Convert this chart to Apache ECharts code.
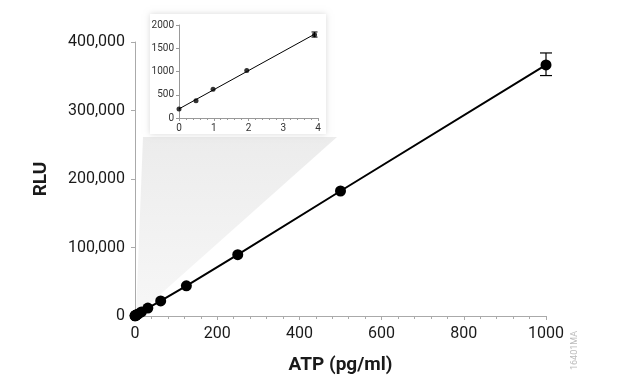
<!DOCTYPE html>
<html><head><meta charset="utf-8">
<script src="https://cdn.jsdelivr.net/npm/echarts@6/dist/echarts.min.js"></script>
<style>html,body{margin:0;padding:0;background:#fff}#c{width:627px;height:392px}</style>
</head><body><div id="c"></div>
<script>
// Main curve data
const atp = [0, 0.49, 0.98, 1.95, 3.9, 7.8, 15.6, 31.25, 62.5, 125, 250, 500, 1000];
const rlu = [200, 370, 620, 1020, 1790, 3000, 5900, 11500, 22000, 44000, 89500, 182500, 366500];
const mainErrX = [1000];
const mainErrLow = [351000];
const mainErrHigh = [384000];
// Inset data (low range)
const insetX = [0, 0.49, 0.98, 1.95, 3.9];
const insetY = [195, 370, 620, 1020, 1790];
const insetErrX = [3.9];
const insetErrLow = [1740];
const insetErrHigh = [1850];

// least squares fit for inset line
function fit(xs, ys) {
  const n = xs.length;
  const mx = xs.reduce((a, b) => a + b, 0) / n, my = ys.reduce((a, b) => a + b, 0) / n;
  let sxy = 0, sxx = 0;
  for (let i = 0; i < n; i++) { sxy += (xs[i] - mx) * (ys[i] - my); sxx += (xs[i] - mx) ** 2; }
  const b = sxy / sxx; return { a: my - b * mx, b };
}
const f = fit(insetX, insetY);
const fitLine = [[insetX[0], f.a + f.b * insetX[0]], [insetX[insetX.length - 1], f.a + f.b * insetX[insetX.length - 1]]];

const font = 'Roboto, "Liberation Sans", sans-serif';
const chart = echarts.init(document.getElementById('c'), null, { renderer: 'canvas' });

function errItem(capW, lw) {
  return function (params, api) {
    const x = api.value(0), lo = api.value(1), hi = api.value(2);
    const pLo = api.coord([x, lo]), pHi = api.coord([x, hi]);
    const st = { stroke: '#000', lineWidth: lw };
    return { type: 'group', children: [
      { type: 'line', shape: { x1: pLo[0], y1: pLo[1], x2: pHi[0], y2: pHi[1] }, style: st },
      { type: 'line', shape: { x1: pLo[0] - capW, y1: pLo[1], x2: pLo[0] + capW, y2: pLo[1] }, style: st },
      { type: 'line', shape: { x1: pHi[0] - capW, y1: pHi[1], x2: pHi[0] + capW, y2: pHi[1] }, style: st }
    ]};
  };
}

const option = {
  animation: false,
  backgroundColor: '#fff',
  grid: [
    { left: 135, right: 81, top: 42, bottom: 76, containLabel: false },
    { left: 179, right: 309, top: 25, bottom: 274, containLabel: false, z: 10 }
  ],
  xAxis: [
    { gridIndex: 0, type: 'value', min: 0, max: 1000, interval: 200,
      name: 'ATP (pg/ml)', nameLocation: 'middle', nameGap: 40,
      nameTextStyle: { fontFamily: font, fontWeight: 'bold', fontSize: 19, color: '#1a1a1a' },
      axisLine: { show: true, lineStyle: { color: '#aaa', width: 1 } },
      axisTick: { show: true, length: 4, lineStyle: { color: '#aaa' } },
      minorTick: { show: true, splitNumber: 5, length: 3, lineStyle: { color: '#aaa' } },
      splitLine: { show: false },
      axisLabel: { fontFamily: font, fontSize: 16, color: '#1a1a1a', margin: 10, formatter: v => String(v) } },
    { gridIndex: 1, type: 'value', min: 0, max: 4, interval: 1, z: 10,
      axisLine: { show: true, lineStyle: { color: '#999', width: 1 } },
      axisTick: { show: true, length: 3, lineStyle: { color: '#999' } },
      minorTick: { show: true, splitNumber: 5, length: 2, lineStyle: { color: '#999' } },
      splitLine: { show: false },
      axisLabel: { fontFamily: font, fontSize: 10, color: '#333', margin: 5, formatter: v => String(v) } }
  ],
  yAxis: [
    { gridIndex: 0, type: 'value', min: 0, max: 400000, interval: 100000,
      name: 'RLU', nameLocation: 'middle', nameGap: 84,
      nameTextStyle: { fontFamily: font, fontWeight: 'bold', fontSize: 19, color: '#1a1a1a' },
      axisLine: { show: true, lineStyle: { color: '#aaa', width: 1 } },
      axisTick: { show: true, length: 4, lineStyle: { color: '#aaa' } },
      splitLine: { show: false },
      axisLabel: { fontFamily: font, fontSize: 16, color: '#1a1a1a', margin: 10,
        formatter: v => v.toLocaleString('en-US') } },
    { gridIndex: 1, type: 'value', min: 0, max: 2000, interval: 500, z: 10,
      axisLine: { show: true, lineStyle: { color: '#999', width: 1 } },
      axisTick: { show: true, length: 3, lineStyle: { color: '#999' } },
      splitLine: { show: false },
      axisLabel: { fontFamily: font, fontSize: 10, color: '#333', margin: 5, formatter: v => String(v) } }
  ],
  series: [
    { type: 'line', xAxisIndex: 0, yAxisIndex: 0, data: atp.map((x, i) => [x, rlu[i]]),
      symbol: 'circle', symbolSize: 11, itemStyle: { color: '#000' },
      lineStyle: { color: '#000', width: 2 }, z: 5 },
    { type: 'custom', xAxisIndex: 0, yAxisIndex: 0,
      data: mainErrX.map((x, i) => [x, mainErrLow[i], mainErrHigh[i]]),
      renderItem: errItem(6, 1.2), z: 4 },
    { type: 'line', xAxisIndex: 1, yAxisIndex: 1, data: fitLine, symbol: 'none',
      lineStyle: { color: '#000', width: 1 }, z: 20 },
    { type: 'scatter', xAxisIndex: 1, yAxisIndex: 1, data: insetX.map((x, i) => [x, insetY[i]]),
      symbol: 'circle', symbolSize: 5, itemStyle: { color: '#000' }, z: 21 },
    { type: 'custom', xAxisIndex: 1, yAxisIndex: 1,
      data: insetErrX.map((x, i) => [x, insetErrLow[i], insetErrHigh[i]]),
      renderItem: errItem(3, 1), z: 21 }
  ],
  graphic: [
    { type: 'polygon', z: 0, silent: true,
      shape: { points: [[143, 137], [337, 137], [136, 316]] },
      style: { fill: { type: 'linear', x: 0, y: 0, x2: 0, y2: 1,
        colorStops: [{ offset: 0, color: '#ececec' }, { offset: 1, color: '#f7f7f7' }] } } },
    { type: 'rect', z: 1, silent: true,
      shape: { x: 150, y: 14, width: 176, height: 120 },
      style: { fill: '#fff', shadowBlur: 6, shadowColor: 'rgba(0,0,0,0.15)', shadowOffsetX: 0, shadowOffsetY: 0 } },
    { type: 'text', z: 5, silent: true, x: 575, y: 370, rotation: Math.PI / 2,
      style: { text: '16401MA', fontFamily: font, fontSize: 9, fill: '#bbb', textAlign: 'left', textVerticalAlign: 'middle' } }
  ]
};
chart.setOption(option);
</script></body></html>
